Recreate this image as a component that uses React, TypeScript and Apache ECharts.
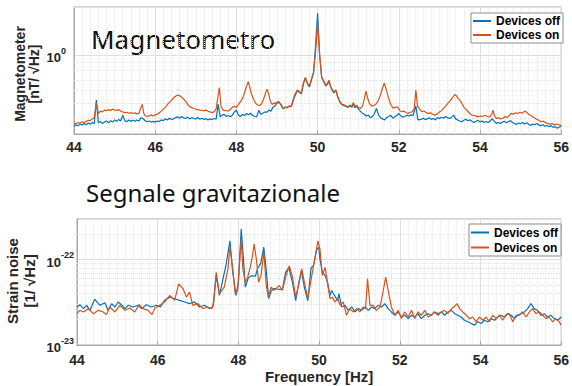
import React, { useEffect, useRef } from 'react';
import * as echarts from 'echarts';

// Frequency axis (Hz)
const freqMin = 44;
const freqMax = 56;
const freqStep = 2;

// Magnetometer ASD [nT/√Hz], pairs of [frequency Hz, value]
const magOff: [number, number][] = [
  [44.0, 0.357], [44.05, 0.366], [44.1, 0.36], [44.15, 0.37], [44.2, 0.364], [44.25, 0.372], [44.3, 0.366],
  [44.35, 0.375], [44.4, 0.369], [44.45, 0.378], [44.5, 0.372], [44.55, 0.522], [44.6, 0.376], [44.65, 0.384],
  [44.7, 0.372], [44.75, 0.38], [44.8, 0.386], [44.85, 0.376], [44.9, 0.388], [44.95, 0.38], [45.0, 0.392],
  [45.05, 0.384], [45.1, 0.395], [45.15, 0.386], [45.2, 0.42], [45.25, 0.388], [45.3, 0.382], [45.35, 0.392],
  [45.4, 0.384], [45.45, 0.39], [45.5, 0.385], [45.55, 0.392], [45.6, 0.386], [45.65, 0.405], [45.7, 0.4],
  [45.75, 0.388], [45.8, 0.382], [45.85, 0.386], [45.9, 0.38], [45.95, 0.384], [46.0, 0.38], [46.05, 0.386],
  [46.1, 0.383], [46.15, 0.392], [46.2, 0.388], [46.25, 0.398], [46.3, 0.392], [46.35, 0.402], [46.4, 0.395],
  [46.45, 0.398], [46.5, 0.405], [46.55, 0.41], [46.6, 0.402], [46.65, 0.412], [46.7, 0.404], [46.75, 0.4],
  [46.8, 0.408], [46.85, 0.398], [46.9, 0.405], [46.95, 0.4], [47.0, 0.398], [47.05, 0.406], [47.1, 0.396],
  [47.15, 0.402], [47.2, 0.395], [47.25, 0.4], [47.3, 0.392], [47.35, 0.398], [47.4, 0.394], [47.45, 0.4],
  [47.5, 0.396], [47.55, 0.493], [47.6, 0.41], [47.65, 0.42], [47.7, 0.425], [47.75, 0.412], [47.8, 0.418],
  [47.85, 0.41], [47.9, 0.42], [47.95, 0.44], [48.0, 0.452], [48.05, 0.42], [48.1, 0.412], [48.15, 0.425],
  [48.2, 0.418], [48.25, 0.43], [48.3, 0.422], [48.35, 0.432], [48.4, 0.418], [48.45, 0.412], [48.5, 0.41],
  [48.55, 0.45], [48.6, 0.425], [48.65, 0.432], [48.7, 0.44], [48.75, 0.438], [48.8, 0.452], [48.85, 0.445],
  [48.9, 0.47], [48.95, 0.48], [49.0, 0.5], [49.05, 0.505], [49.1, 0.49], [49.15, 0.462], [49.2, 0.47],
  [49.25, 0.468], [49.3, 0.478], [49.35, 0.474], [49.4, 0.52], [49.45, 0.56], [49.5, 0.598], [49.55, 0.585],
  [49.6, 0.57], [49.65, 0.66], [49.7, 0.715], [49.75, 0.66], [49.8, 0.632], [49.85, 0.7], [49.9, 0.78],
  [49.95, 1.15], [50.0, 1.826], [50.05, 1.0], [50.1, 0.72], [50.15, 0.68], [50.2, 0.64], [50.25, 0.66],
  [50.28, 0.69], [50.32, 0.63], [50.36, 0.6], [50.4, 0.578], [50.45, 0.6], [50.5, 0.54], [50.55, 0.505],
  [50.6, 0.488], [50.65, 0.482], [50.7, 0.476], [50.75, 0.47], [50.8, 0.48], [50.85, 0.47], [50.88, 0.495],
  [50.92, 0.468], [50.96, 0.478], [51.0, 0.46], [51.05, 0.445], [51.1, 0.432], [51.15, 0.425], [51.2, 0.415],
  [51.25, 0.42], [51.3, 0.405], [51.35, 0.412], [51.4, 0.43], [51.45, 0.462], [51.5, 0.42], [51.55, 0.405],
  [51.6, 0.398], [51.65, 0.392], [51.7, 0.405], [51.75, 0.412], [51.8, 0.42], [51.85, 0.402], [51.9, 0.41],
  [51.95, 0.418], [52.0, 0.43], [52.05, 0.415], [52.1, 0.408], [52.15, 0.412], [52.2, 0.42], [52.25, 0.415],
  [52.3, 0.422], [52.35, 0.418], [52.42, 0.478], [52.47, 0.392], [52.55, 0.395], [52.6, 0.402], [52.65, 0.394],
  [52.7, 0.398], [52.75, 0.405], [52.8, 0.395], [52.85, 0.4], [52.9, 0.392], [52.95, 0.405], [53.0, 0.4],
  [53.05, 0.408], [53.1, 0.402], [53.15, 0.412], [53.2, 0.405], [53.25, 0.4], [53.3, 0.408], [53.35, 0.42],
  [53.4, 0.398], [53.45, 0.392], [53.5, 0.386], [53.55, 0.382], [53.6, 0.39], [53.65, 0.396], [53.7, 0.388],
  [53.75, 0.392], [53.8, 0.385], [53.85, 0.378], [53.9, 0.385], [53.95, 0.39], [54.0, 0.38], [54.05, 0.386],
  [54.1, 0.378], [54.15, 0.383], [54.2, 0.378], [54.25, 0.386], [54.3, 0.4], [54.35, 0.385], [54.4, 0.373],
  [54.45, 0.378], [54.5, 0.372], [54.55, 0.38], [54.6, 0.385], [54.65, 0.376], [54.7, 0.382], [54.75, 0.388],
  [54.8, 0.378], [54.85, 0.372], [54.9, 0.368], [54.95, 0.375], [55.0, 0.372], [55.05, 0.378], [55.1, 0.37],
  [55.15, 0.376], [55.2, 0.368], [55.25, 0.362], [55.3, 0.37], [55.35, 0.366], [55.4, 0.372], [55.45, 0.365],
  [55.5, 0.36], [55.55, 0.366], [55.6, 0.358], [55.65, 0.362], [55.7, 0.355], [55.75, 0.36], [55.8, 0.352],
  [55.85, 0.356], [55.9, 0.348], [55.95, 0.354], [56.0, 0.358],
];

const magOn: [number, number][] = [
  [44.0, 0.373], [44.05, 0.37], [44.1, 0.378], [44.15, 0.375], [44.2, 0.382], [44.25, 0.378], [44.3, 0.385],
  [44.35, 0.39], [44.4, 0.388], [44.45, 0.398], [44.5, 0.405], [44.55, 0.5], [44.6, 0.43], [44.65, 0.445],
  [44.7, 0.44], [44.75, 0.452], [44.8, 0.448], [44.85, 0.455], [44.9, 0.45], [44.95, 0.458], [45.0, 0.452],
  [45.05, 0.45], [45.1, 0.455], [45.15, 0.446], [45.2, 0.44], [45.25, 0.436], [45.3, 0.438], [45.35, 0.432],
  [45.4, 0.436], [45.45, 0.43], [45.5, 0.434], [45.55, 0.428], [45.6, 0.432], [45.65, 0.47], [45.68, 0.49],
  [45.72, 0.43], [45.75, 0.418], [45.8, 0.412], [45.85, 0.416], [45.9, 0.42], [45.95, 0.415], [46.0, 0.422],
  [46.05, 0.425], [46.1, 0.435], [46.15, 0.445], [46.2, 0.458], [46.25, 0.47], [46.3, 0.49], [46.35, 0.505],
  [46.4, 0.52], [46.45, 0.538], [46.5, 0.552], [46.55, 0.562], [46.6, 0.555], [46.65, 0.545], [46.7, 0.53],
  [46.75, 0.512], [46.8, 0.49], [46.85, 0.475], [46.9, 0.468], [46.95, 0.462], [47.0, 0.458], [47.05, 0.455],
  [47.1, 0.452], [47.15, 0.45], [47.2, 0.448], [47.25, 0.452], [47.3, 0.444], [47.35, 0.44], [47.4, 0.436],
  [47.45, 0.44], [47.5, 0.46], [47.55, 0.56], [47.58, 0.624], [47.62, 0.48], [47.66, 0.455], [47.7, 0.45],
  [47.75, 0.448], [47.8, 0.446], [47.85, 0.455], [47.9, 0.47], [47.95, 0.478], [48.0, 0.47], [48.05, 0.49],
  [48.1, 0.51], [48.15, 0.535], [48.2, 0.58], [48.25, 0.64], [48.29, 0.68], [48.33, 0.63], [48.37, 0.57],
  [48.42, 0.53], [48.47, 0.5], [48.52, 0.486], [48.57, 0.482], [48.62, 0.495], [48.67, 0.53], [48.72, 0.58],
  [48.76, 0.612], [48.8, 0.56], [48.84, 0.51], [48.88, 0.49], [48.92, 0.5], [48.96, 0.498], [49.0, 0.505],
  [49.04, 0.512], [49.08, 0.495], [49.12, 0.47], [49.16, 0.46], [49.2, 0.472], [49.25, 0.47], [49.3, 0.48],
  [49.35, 0.476], [49.4, 0.53], [49.45, 0.575], [49.5, 0.603], [49.55, 0.59], [49.6, 0.575], [49.65, 0.67],
  [49.7, 0.725], [49.75, 0.665], [49.8, 0.64], [49.85, 0.71], [49.9, 0.768], [49.95, 1.05], [50.0, 1.58],
  [50.05, 1.0], [50.1, 0.73], [50.15, 0.69], [50.2, 0.645], [50.25, 0.67], [50.28, 0.697], [50.32, 0.635],
  [50.36, 0.61], [50.4, 0.585], [50.45, 0.605], [50.5, 0.548], [50.55, 0.51], [50.6, 0.492], [50.65, 0.488],
  [50.7, 0.48], [50.75, 0.474], [50.8, 0.486], [50.85, 0.478], [50.88, 0.505], [50.92, 0.475], [50.96, 0.485],
  [51.0, 0.47], [51.05, 0.462], [51.1, 0.475], [51.15, 0.53], [51.19, 0.595], [51.23, 0.54], [51.28, 0.495],
  [51.33, 0.478], [51.38, 0.482], [51.43, 0.49], [51.48, 0.51], [51.53, 0.545], [51.58, 0.6], [51.64, 0.665],
  [51.69, 0.61], [51.74, 0.545], [51.8, 0.49], [51.86, 0.465], [51.92, 0.47], [51.97, 0.474], [52.02, 0.45],
  [52.07, 0.441], [52.13, 0.445], [52.18, 0.435], [52.23, 0.431], [52.28, 0.438], [52.33, 0.44], [52.38, 0.46],
  [52.42, 0.603], [52.46, 0.48], [52.52, 0.455], [52.57, 0.441], [52.62, 0.446], [52.67, 0.436], [52.73, 0.431],
  [52.78, 0.434], [52.84, 0.425], [52.89, 0.42], [52.95, 0.428], [53.01, 0.441], [53.06, 0.45], [53.1, 0.463],
  [53.16, 0.48], [53.21, 0.5], [53.26, 0.515], [53.31, 0.535], [53.35, 0.552], [53.38, 0.567], [53.42, 0.555],
  [53.46, 0.535], [53.5, 0.522], [53.55, 0.5], [53.6, 0.472], [53.66, 0.455], [53.72, 0.438], [53.79, 0.42],
  [53.85, 0.418], [53.9, 0.414], [53.95, 0.41], [54.0, 0.415], [54.06, 0.412], [54.12, 0.42], [54.18, 0.412],
  [54.24, 0.41], [54.29, 0.425], [54.32, 0.452], [54.36, 0.415], [54.4, 0.401], [54.45, 0.405], [54.5, 0.398],
  [54.57, 0.402], [54.62, 0.412], [54.67, 0.405], [54.72, 0.418], [54.77, 0.431], [54.82, 0.425], [54.87, 0.435],
  [54.93, 0.43], [54.98, 0.438], [55.04, 0.432], [55.1, 0.445], [55.15, 0.438], [55.2, 0.425], [55.25, 0.418],
  [55.3, 0.41], [55.35, 0.402], [55.4, 0.395], [55.45, 0.39], [55.5, 0.382], [55.56, 0.385], [55.62, 0.376],
  [55.67, 0.373], [55.72, 0.368], [55.78, 0.372], [55.83, 0.364], [55.88, 0.37], [55.93, 0.366], [56.0, 0.362],
];

// Strain ASD in units of 1e-23 /√Hz, pairs of [frequency Hz, value]
const strainUnitExp = -23;
const strainOff: [number, number][] = [
  [44.0, 2.79], [44.07, 2.97], [44.16, 2.67], [44.24, 2.92], [44.32, 2.55], [44.44, 3.43], [44.57, 2.92],
  [44.69, 3.13], [44.77, 2.55], [44.86, 3.05], [44.94, 2.79], [45.02, 3.19], [45.1, 2.97], [45.19, 2.67],
  [45.27, 2.92], [45.39, 2.79], [45.51, 2.92], [45.6, 2.67], [45.72, 2.97], [45.84, 2.79], [45.97, 2.92],
  [46.07, 2.79], [46.17, 3.34], [46.3, 3.64], [46.42, 3.49], [46.54, 3.34], [46.67, 3.19], [46.79, 3.05],
  [46.91, 3.19], [47.04, 2.79], [47.16, 2.92], [47.28, 2.67], [47.37, 2.79], [47.45, 6.52], [47.53, 3.81],
  [47.69, 8.5], [47.79, 16.6], [47.86, 7.12], [47.94, 3.81], [48.0, 5.45], [48.07, 23.0], [48.12, 11.1],
  [48.17, 4.77], [48.25, 6.2], [48.33, 6.5], [48.42, 6.4], [48.48, 8.0], [48.55, 9.0], [48.63, 14.0],
  [48.69, 7.5], [48.75, 3.5], [48.81, 4.3], [48.89, 4.6], [49.0, 4.5], [49.09, 4.5], [49.17, 7.1],
  [49.25, 8.1], [49.34, 5.4], [49.42, 3.3], [49.5, 5.5], [49.56, 7.4], [49.64, 4.6], [49.72, 3.3],
  [49.8, 8.0], [49.86, 8.5], [49.94, 13.0], [49.99, 14.0], [50.02, 10.2], [50.08, 7.12], [50.15, 6.52],
  [50.21, 5.45], [50.27, 3.81], [50.31, 4.36], [50.38, 3.81], [50.46, 3.34], [50.49, 3.99], [50.56, 2.79],
  [50.64, 2.92], [50.72, 2.55], [50.81, 2.79], [50.89, 2.44], [50.97, 2.67], [51.05, 2.55], [51.14, 2.79],
  [51.22, 2.55], [51.3, 2.79], [51.38, 2.67], [51.46, 2.92], [51.55, 2.79], [51.63, 3.05], [51.71, 2.67],
  [51.79, 2.44], [51.88, 2.23], [51.96, 2.44], [52.04, 2.13], [52.12, 2.23], [52.21, 2.04], [52.29, 2.23],
  [52.37, 2.13], [52.45, 2.33], [52.53, 2.04], [52.62, 2.23], [52.7, 2.33], [52.78, 2.23], [52.86, 2.44],
  [52.95, 2.33], [53.03, 2.44], [53.11, 2.23], [53.19, 2.44], [53.28, 2.55], [53.36, 2.33], [53.44, 2.23],
  [53.52, 2.13], [53.6, 1.95], [53.69, 1.87], [53.77, 1.79], [53.85, 1.71], [53.93, 1.87], [54.02, 1.79],
  [54.1, 1.95], [54.18, 1.87], [54.26, 2.04], [54.35, 1.95], [54.43, 2.13], [54.51, 2.23], [54.59, 2.13],
  [54.67, 2.33], [54.76, 2.23], [54.84, 2.04], [54.92, 2.23], [55.0, 2.33], [55.09, 2.44], [55.17, 2.67],
  [55.25, 3.05], [55.33, 2.67], [55.41, 2.55], [55.5, 2.23], [55.58, 2.33], [55.66, 2.13], [55.74, 2.23],
  [55.83, 2.04], [55.91, 1.95], [56.0, 2.13],
];

const strainOn: [number, number][] = [
  [44.0, 2.33], [44.07, 2.55], [44.16, 2.44], [44.28, 2.67], [44.4, 2.33], [44.53, 2.55], [44.65, 2.44],
  [44.73, 2.27], [44.81, 2.79], [44.94, 2.44], [45.06, 2.92], [45.19, 2.55], [45.31, 2.71], [45.43, 2.44],
  [45.54, 2.97], [45.64, 2.67], [45.76, 2.55], [45.86, 2.27], [45.93, 2.71], [46.05, 2.92], [46.17, 3.19],
  [46.3, 3.81], [46.42, 3.34], [46.52, 5.22], [46.63, 4.56], [46.71, 3.64], [46.79, 4.17], [46.87, 2.92],
  [47.0, 3.05], [47.12, 2.67], [47.24, 2.79], [47.34, 2.67], [47.39, 3.19], [47.45, 7.12], [47.53, 3.99],
  [47.65, 4.77], [47.74, 7.8], [47.79, 14.0], [47.86, 7.8], [47.92, 3.99], [47.98, 4.36], [48.07, 17.5],
  [48.11, 7.8], [48.17, 5.45], [48.23, 6.24], [48.29, 8.0], [48.34, 10.5], [48.39, 15.2], [48.45, 9.74],
  [48.5, 5.45], [48.56, 6.52], [48.63, 12.4], [48.69, 4.99], [48.74, 3.64], [48.81, 4.77], [48.89, 4.36],
  [49.01, 4.99], [49.09, 4.36], [49.17, 6.24], [49.26, 8.5], [49.34, 6.24], [49.42, 3.64], [49.5, 5.22],
  [49.57, 7.8], [49.65, 4.99], [49.72, 3.49], [49.79, 5.45], [49.87, 8.9], [49.97, 16.6], [50.02, 13.5],
  [50.08, 6.52], [50.15, 8.14], [50.21, 5.22], [50.27, 3.49], [50.33, 3.64], [50.39, 3.19], [50.46, 3.49],
  [50.52, 2.92], [50.6, 3.19], [50.68, 2.23], [50.76, 2.67], [50.85, 2.44], [50.93, 2.67], [51.01, 2.44],
  [51.09, 2.79], [51.15, 2.67], [51.2, 5.96], [51.26, 2.92], [51.34, 2.92], [51.42, 2.55], [51.51, 2.79],
  [51.59, 4.36], [51.65, 6.24], [51.71, 4.36], [51.79, 2.79], [51.88, 2.23], [51.96, 2.55], [52.04, 2.04],
  [52.12, 2.44], [52.21, 2.13], [52.29, 2.55], [52.37, 2.04], [52.45, 2.44], [52.53, 2.23], [52.62, 2.55],
  [52.7, 2.13], [52.78, 2.23], [52.86, 2.44], [52.95, 2.23], [53.03, 2.44], [53.11, 2.55], [53.19, 2.33],
  [53.28, 2.67], [53.34, 2.79], [53.42, 3.05], [53.48, 2.67], [53.56, 2.44], [53.65, 2.23], [53.73, 2.04],
  [53.81, 2.13], [53.89, 1.87], [53.97, 2.13], [54.06, 1.95], [54.14, 2.13], [54.22, 1.87], [54.3, 2.23],
  [54.39, 2.04], [54.47, 2.23], [54.55, 1.95], [54.63, 2.23], [54.71, 2.33], [54.8, 1.87], [54.88, 2.23],
  [54.96, 2.23], [55.04, 2.44], [55.13, 2.13], [55.21, 2.44], [55.29, 2.67], [55.37, 2.33], [55.46, 2.44],
  [55.54, 2.23], [55.62, 2.04], [55.7, 2.13], [55.79, 1.87], [55.87, 2.04], [55.95, 1.87], [56.0, 1.71],
];

// Log-axis limits and minor grid values
const magRange = [0.32, 2];
const magMinor = [0.4, 0.5, 0.6, 0.7, 0.8, 0.9, 2];
const strainRange = [1, 30];
const strainMinor = [2, 3, 4, 5, 6, 7, 8, 9, 20];

const seriesNames = ['Devices off', 'Devices on'];
const OFF_COLOR = '#0072BD';
const ON_COLOR = '#D95319';

const AXIS_FONT = '"Liberation Sans", Arial, Helvetica, sans-serif';
const TITLE_FONT = '"Noto Sans", "Open Sans", sans-serif';
const BOX = '#a8a8a8';
const GRID = '#dedede';
const MINOR = '#e4e4e4';

const isPow10 = (v: number) => {
  const l = Math.log10(v);
  return Math.abs(l - Math.round(l)) < 1e-6;
};

function xAxisFor(gridIndex: number, margin: number, extra: object = {}) {
  return {
    type: 'value',
    gridIndex,
    min: freqMin,
    max: freqMax,
    interval: freqStep,
    axisLine: { show: true, lineStyle: { color: BOX, width: 1 } },
    axisTick: { show: true, inside: true, length: 4, lineStyle: { color: BOX } },
    minorTick: { show: false, splitNumber: 10 },
    splitLine: { show: true, lineStyle: { color: GRID, width: 1 } },
    minorSplitLine: { show: true, lineStyle: { color: MINOR, width: 1, type: 'dotted' } },
    axisLabel: {
      margin,
      color: '#262626',
      fontFamily: AXIS_FONT,
      fontWeight: 'bold',
      fontSize: 14,
    },
    ...extra,
  };
}

function yAxisFor(gridIndex: number, range: number[], expOffset: number, margin: number) {
  return {
    type: 'log',
    logBase: 10,
    gridIndex,
    min: range[0],
    max: range[1],
    axisLine: { show: true, lineStyle: { color: BOX, width: 1 } },
    axisTick: { show: false },
    splitLine: { show: true, lineStyle: { color: GRID, width: 1 } },
    axisLabel: {
      margin,
      showMinLabel: true,
      showMaxLabel: true,
      formatter: (v: number) =>
        isPow10(v) ? `{b|10}{s|${Math.round(Math.log10(v)) + expOffset}}` : '',
      rich: {
        b: {
          fontFamily: AXIS_FONT,
          fontWeight: 'bold',
          fontSize: 13,
          color: '#262626',
          verticalAlign: 'bottom',
          padding: [5, 0, 0, 0],
        },
        s: {
          fontFamily: AXIS_FONT,
          fontWeight: 'bold',
          fontSize: 9,
          color: '#262626',
          verticalAlign: 'top',
        },
      },
    },
  };
}

function minorGrid(values: number[]) {
  return {
    silent: true,
    symbol: 'none',
    z: 1,
    label: { show: false },
    lineStyle: { color: MINOR, width: 1, type: 'dotted' },
    data: values.map((v) => ({ yAxis: v })),
  };
}

function lineSeries(name: string, color: string, data: [number, number][], idx: number, extra: object = {}) {
  return {
    name,
    type: 'line',
    xAxisIndex: idx,
    yAxisIndex: idx,
    data,
    showSymbol: false,
    symbol: 'none',
    color,
    lineStyle: { color, width: 1.2 },
    emphasis: { disabled: true },
    ...extra,
  };
}

function legendAt(left: number, top: number, lineHeight: number) {
  return {
    orient: 'vertical',
    left,
    top,
    data: seriesNames,
    icon: 'rect',
    itemWidth: 18,
    itemHeight: 2,
    itemGap: 0,
    padding: [1, 3, 1, 2],
    borderColor: '#8a8a8a',
    borderWidth: 1,
    backgroundColor: '#ffffff',
    selectedMode: false,
    textStyle: {
      fontFamily: AXIS_FONT,
      fontWeight: 'bold',
      fontSize: 12,
      color: '#000',
      lineHeight,
    },
  };
}

export default function App() {
  const ref = useRef<HTMLDivElement>(null);

  useEffect(() => {
    if (!ref.current) return;
    const chart = echarts.init(ref.current, undefined, { renderer: 'svg' });
    const strainOnScaled = strainOn;
    chart.setOption({
      animation: false,
      backgroundColor: '#ffffff',
      grid: [
        { left: 74, top: 7, width: 491, height: 127, show: true, borderColor: BOX, borderWidth: 1, containLabel: false },
        { left: 77, top: 219, width: 486, height: 126, show: true, borderColor: BOX, borderWidth: 1, containLabel: false },
      ],
      xAxis: [
        xAxisFor(0, 6),
        xAxisFor(1, 8, {
          name: 'Frequency [Hz]',
          nameLocation: 'middle',
          nameGap: 24,
          nameTextStyle: { fontFamily: AXIS_FONT, fontWeight: 'bold', fontSize: 15, color: '#262626' },
        }),
      ],
      yAxis: [yAxisFor(0, magRange, 0, 8), yAxisFor(1, strainRange, strainUnitExp, 3)],
      legend: [legendAt(471, 13, 14), legendAt(469, 224, 15)],
      series: [
        lineSeries(seriesNames[0], OFF_COLOR, magOff, 0, { markLine: minorGrid(magMinor) }),
        lineSeries(seriesNames[1], ON_COLOR, magOn, 0),
        lineSeries(seriesNames[0], OFF_COLOR, strainOff, 1, { markLine: minorGrid(strainMinor) }),
        lineSeries(seriesNames[1], ON_COLOR, strainOnScaled, 1),
      ],
      graphic: [
        {
          type: 'text',
          left: 91,
          top: 26,
          style: { text: 'Magnetometro', font: `26px ${TITLE_FONT}`, fill: '#111' },
        },
        {
          type: 'text',
          left: 86,
          top: 180,
          style: { text: 'Segnale gravitazionale', font: `24px ${TITLE_FONT}`, fill: '#111' },
        },
        {
          type: 'text',
          x: 27,
          y: 74,
          rotation: Math.PI / 2,
          style: {
            text: 'Magnetometer\n[nT/ \u221AHz]',
            font: `bold 14px ${AXIS_FONT}`,
            lineHeight: 14,
            align: 'center',
            verticalAlign: 'middle',
            fill: '#262626',
          },
        },
        {
          type: 'text',
          x: 21,
          y: 281,
          rotation: Math.PI / 2,
          style: {
            text: 'Strain noise\n[1/ \u221AHz]',
            font: `bold 15px ${AXIS_FONT}`,
            lineHeight: 17,
            align: 'center',
            verticalAlign: 'middle',
            fill: '#262626',
          },
        },
      ],
    });
    return () => chart.dispose();
  }, []);

  return (
    <div
      ref={ref}
      style={{ position: 'fixed', left: 0, top: 0, width: 572, height: 386, background: '#fff' }}
    />
  );
}
